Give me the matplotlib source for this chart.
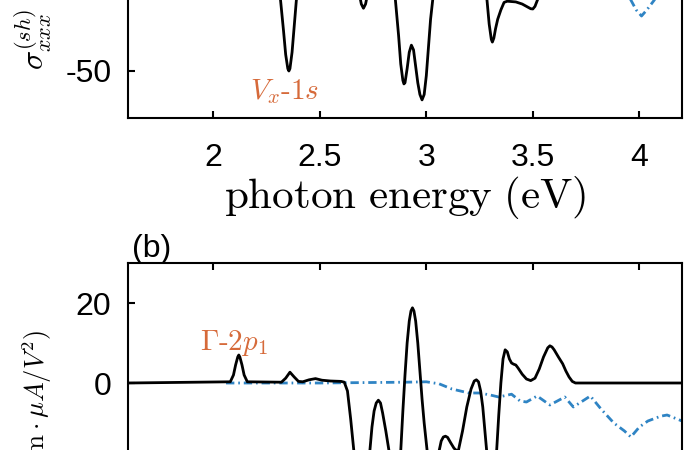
import numpy as np
import matplotlib.pyplot as plt

plt.rcParams['font.family'] = ['Liberation Sans', 'DejaVu Sans']
plt.rcParams['mathtext.fontset'] = 'cm'

# panel (a): sigma^(sh)_xxx, only its lower part is visible
a_e = [1.6, 2.2, 2.27, 2.30, 2.315, 2.33, 2.34, 2.35, 2.355, 2.36, 2.37, 2.38,
       2.39, 2.41, 2.45, 2.6, 2.67, 2.685, 2.695, 2.705, 2.715, 2.725, 2.74,
       2.8, 2.84, 2.855, 2.87, 2.88, 2.89, 2.895, 2.90, 2.91, 2.92, 2.93,
       2.94, 2.95, 2.96, 2.97, 2.98, 2.99, 3.0, 3.01, 3.02, 3.03, 3.05, 3.2,
       3.27, 3.285, 3.295, 3.305, 3.31, 3.317, 3.325, 3.335, 3.35, 3.365,
       3.38, 3.42, 3.45, 3.47, 3.49, 3.50, 3.51, 3.525, 3.55, 3.6, 3.7, 4.2]
a_black = [0, 0, -2, -8, -19, -33, -43, -49, -50, -49, -42, -31,
           -20, -8, -1, 0, -10, -17, -21.5, -23.3, -21.5, -17, -10,
           0, -8, -19.8, -35, -47, -54, -55.5, -55, -49, -42, -39,
           -41, -48, -55, -60, -62.3, -60, -52, -40, -28, -19.8, -6, 0,
           -10, -20, -30, -36.5, -37.7, -36, -32, -28, -24, -20.8,
           -20.3, -20.6, -21.5, -22.5, -23.5, -23.6, -22.5, -19, -12, -5, 0, 0]
a_blue_e = [2.06, 3.0, 3.5, 3.9, 3.96, 3.985, 4.01, 4.035, 4.07, 4.12, 4.2]
a_blue = [0, 0, -5, -10, -19.8, -24, -26.6, -24, -19.8, -12, -10]

# panel (b)
b_e = [1.6, 2.08, 2.095, 2.105, 2.115, 2.12, 2.125, 2.135, 2.145, 2.16,
       2.32, 2.34, 2.36, 2.38, 2.40, 2.42, 2.45, 2.48, 2.51, 2.55, 2.60,
       2.615, 2.63, 2.645, 2.66, 2.675, 2.72, 2.735, 2.745, 2.755, 2.765,
       2.775, 2.785, 2.795, 2.81, 2.825, 2.84, 2.87, 2.88, 2.89, 2.90, 2.91,
       2.92, 2.928, 2.935, 2.942, 2.95, 2.96, 2.97, 2.98, 2.99, 3.0, 3.01,
       3.03, 3.06, 3.07, 3.08, 3.09, 3.10, 3.115, 3.13, 3.14, 3.15, 3.17,
       3.19, 3.21, 3.225, 3.235, 3.245, 3.255, 3.265, 3.275, 3.285, 3.30,
       3.33, 3.34, 3.35, 3.36, 3.37, 3.38, 3.39, 3.40, 3.41, 3.42, 3.43,
       3.45, 3.47, 3.49, 3.51, 3.53, 3.55, 3.57, 3.58, 3.59, 3.60, 3.62,
       3.64, 3.655, 3.67, 3.685, 3.70, 4.2]
b_black = [0, 0.3, 2, 4.5, 6.5, 7, 6.5, 4.5, 2, 0.3,
           0.2, 1.2, 2.7, 1.5, 0.4, 0.3, 0.8, 1.1, 0.7, 0.5, 0.4,
           0.2, -2, -9, -17, -25, -25, -17, -11, -7, -5,
           -4.3, -5, -7.5, -12, -17, -25, -25, -17, -7, 2, 10,
           15.5, 18, 18.8, 18, 15.5, 10, 3, -4, -10, -15, -20,
           -25, -17, -14.5, -13.5, -13.3, -13.6, -15, -16.3, -16.8, -17, -12,
           -6, -1.5, 0.5, 0.8, 0.3, -2, -6, -12, -18, -25,
           -17, -8, 0, 6, 8.3, 7.8, 6, 5, 4.7, 4.5, 3.8,
           2.2, 1.0, 0.6, 1.2, 3.5, 6.5, 8.8, 9.3, 9, 8.3, 6.5,
           4.8, 3, 1.5, 0.4, 0, 0]
b_blue_e = [2.06, 2.5, 2.9, 3.0, 3.06, 3.12, 3.2, 3.25, 3.30, 3.34, 3.40,
            3.44, 3.47, 3.52, 3.58, 3.65, 3.69, 3.77, 3.82, 3.88, 3.93, 3.96,
            4.0, 4.04, 4.10, 4.13, 4.2]
b_blue = [0, 0, 0.2, 0.3, -0.2, -1.5, -2.5, -2.5, -3.0, -3.5, -2.8,
          -4.5, -4.75, -3.25, -5.5, -3.5, -6, -3.25, -6.5, -10, -12, -13.5,
          -11, -9.5, -8.3, -8, -9.5]

xticks = [2, 2.5, 3, 3.5, 4]
xticklabels = ['2', '2.5', '3', '3.5', '4']

orange = '#D66A3A'
blue = '#2F84C4'
dashdot = (0, (3.0, 1.4, 0.6, 1.4))
ylab_a = r'$\sigma^{(sh)}_{xxx}$'
ylab_b = r'$\sigma^{(sh)}_{xxx}\ (\mathrm{nm}\cdot\mu A/V^2)$'

W, H = 685, 450
fig = plt.figure(figsize=(6.85, 4.5), dpi=100)


def px_axes(left, bottom_px, right, height_px):
    # bottom_px measured from the top of the picture
    return fig.add_axes([left / W, 1 - bottom_px / H, (right - left) / W, height_px / H])


axa = px_axes(128, 118, 682, 110 * 2.35)
axb = px_axes(128, 383 + 40 * 4.0, 682, 70 * 4.0)

for ax in (axa, axb):
    ax.set_xlim(1.6, 4.2)
    ax.set_xticks(xticks)
    ax.set_xticklabels(xticklabels)
    for s in ax.spines.values():
        s.set_linewidth(1.5)
    ax.tick_params(direction='in', length=5, width=1.5, labelsize=23,
                   top=True, right=False, pad=12)
    ax.tick_params(axis='x', pad=18)

axa.plot(a_blue_e, a_blue, color=blue, lw=2.0, linestyle=dashdot)
axa.plot(a_e, a_black, color='k', lw=2.0)
axa.set_ylim(-70, 40)
axa.set_yticks([-50, 0])
axa.set_yticklabels(['-50', '0'])
axa.set_xlabel(r'$\mathrm{photon\ energy\ (eV)}$', fontsize=31, labelpad=1)
axa.text(2.174, -61.9, r'$V_x\text{-}1s$', color=orange, fontsize=21,
         ha='left', va='baseline')

axb.plot(b_blue_e, b_blue, color=blue, lw=2.0, linestyle=dashdot)
axb.plot(b_e, b_black, color='k', lw=2.0)
axb.set_ylim(-40, 30)
axb.set_yticks([-20, 0, 20])
axb.set_yticklabels(['-20', '0', '20'])
axb.text(1.94, 8.25, r'$\Gamma\text{-}2p_1$', color=orange, fontsize=21,
         ha='left', va='baseline')

# y labels, cut by the picture edge like the reference
fig.text(33 / W, 1 - 70 / H, ylab_a, rotation=90, ha='center', va='bottom',
         fontsize=23)
fig.text(36 / W, 1 - 330 / H, ylab_b, rotation=90, ha='center', va='top',
         fontsize=19)
fig.text(132 / W, 1 - 257 / H, '(b)', fontsize=23, ha='left', va='baseline')

fig.savefig('out.png', dpi=100)
